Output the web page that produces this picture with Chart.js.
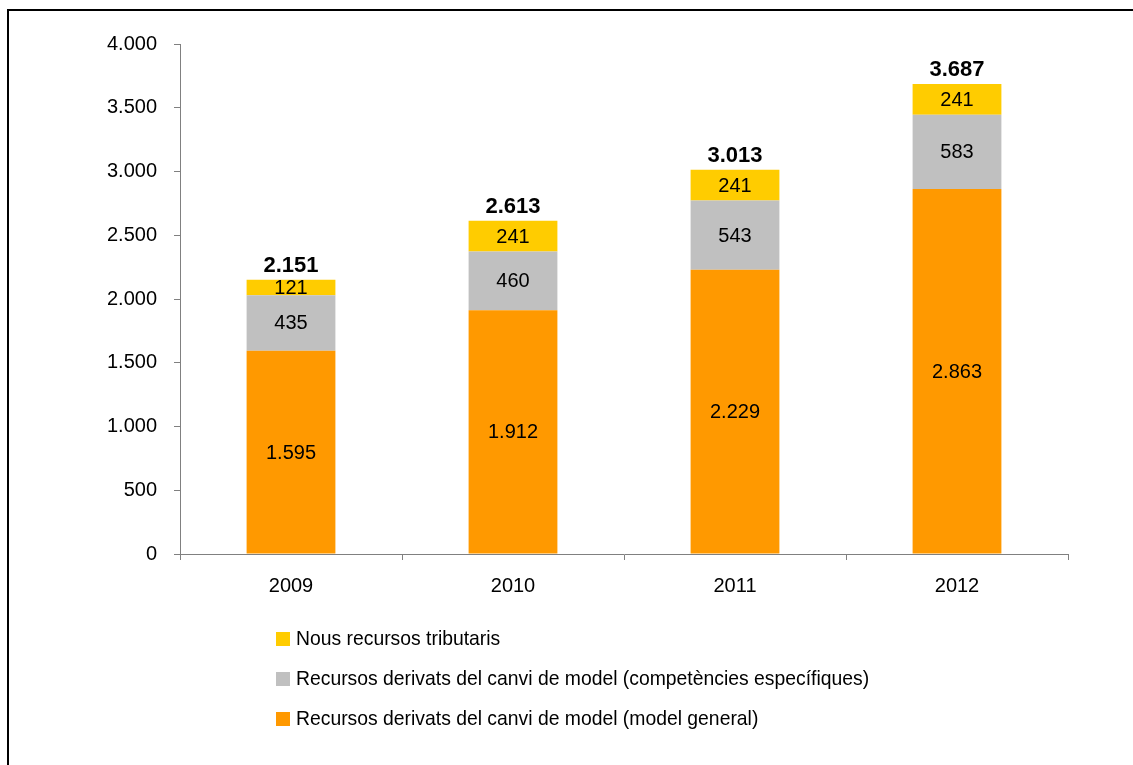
<!DOCTYPE html>
<html>
<head>
<meta charset="utf-8">
<script src="https://cdn.jsdelivr.net/npm/chart.js@4"></script>
<style>
  html, body { margin:0; padding:0; background:#fff; overflow:hidden; }
  #wrap { position:relative; width:1133px; height:765px; }
  #frame { position:absolute; left:7px; top:9px; width:1300px; height:900px; border-left:2px solid #000; border-top:2px solid #000; pointer-events:none; }
  canvas { position:absolute; left:0; top:0; }
  #legend { position:absolute; left:276px; top:627px; font-family:"Liberation Sans", Arial, sans-serif; font-size:19.35px; color:#000; }
  .item { height:40px; display:flex; align-items:flex-start; }
  .sw { width:14px; height:14px; margin-top:5px; margin-right:6px; }
</style>
</head>
<body>
<div id="wrap">
  <canvas id="c" width="1133" height="765"></canvas>
  <div id="frame"></div>
  <div id="legend"></div>
</div>
<script>
const years = ['2009', '2010', '2011', '2012'];
const modelGeneral = [1595, 1912, 2229, 2863];
const competencies = [435, 460, 543, 583];
const tributaris = [121, 241, 241, 241];
const totals = [2151, 2613, 3013, 3687];
const seriesNames = [
  'Recursos derivats del canvi de model (model general)',
  'Recursos derivats del canvi de model (competències específiques)',
  'Nous recursos tributaris'
];
const colors = ['#FF9900', '#C0C0C0', '#FFCC00'];

function fmt(v) {
  return String(v).replace(/\B(?=(\d{3})+(?!\d))/g, '.');
}

const FONT = '"Liberation Sans", Arial, sans-serif';

const labelPlugin = {
  id: 'labels',
  afterDatasetsDraw(chart) {
    const ctx = chart.ctx;
    ctx.save();
    ctx.fillStyle = '#000';
    ctx.textAlign = 'center';
    ctx.textBaseline = 'middle';
    ctx.font = '20px ' + FONT;
    chart.data.datasets.forEach((ds, di) => {
      const meta = chart.getDatasetMeta(di);
      meta.data.forEach((bar, i) => {
        const y = (bar.y + bar.base) / 2;
        ctx.fillText(fmt(ds.data[i]), bar.x, y + 1);
      });
    });
    const topMeta = chart.getDatasetMeta(chart.data.datasets.length - 1);
    ctx.font = 'bold 22px ' + FONT;
    ctx.textBaseline = 'alphabetic';
    topMeta.data.forEach((bar, i) => {
      ctx.fillText(fmt(totals[i]), bar.x, bar.y - 8);
    });
    ctx.restore();
  }
};

new Chart(document.getElementById('c'), {
  type: 'bar',
  data: {
    labels: years,
    datasets: [
      { label: seriesNames[0], data: modelGeneral, backgroundColor: colors[0] },
      { label: seriesNames[1], data: competencies, backgroundColor: colors[1] },
      { label: seriesNames[2], data: tributaris, backgroundColor: colors[2] }
    ]
  },
  options: {
    responsive: false,
    animation: false,
    devicePixelRatio: 1,
    layout: { padding: { left: 0, right: 65, top: 44, bottom: 0 } },
    datasets: { bar: { barPercentage: 0.4, categoryPercentage: 1.0 } },
    plugins: { legend: { display: false }, tooltip: { enabled: false } },
    scales: {
      x: {
        stacked: true,
        grid: { display: true, drawOnChartArea: false, drawTicks: true, tickLength: 6, color: '#808080', offset: true },
        border: { display: true, color: '#808080', width: 1 },
        ticks: { color: '#000', font: { family: FONT, size: 20 }, padding: 14 },
        afterFit(scale) { scale.height = 211; }
      },
      y: {
        stacked: true,
        min: 0,
        max: 4000,
        grid: { display: true, drawOnChartArea: false, drawTicks: true, tickLength: 6, color: '#808080' },
        border: { display: true, color: '#808080', width: 1 },
        ticks: { stepSize: 500, color: '#000', font: { family: FONT, size: 20 }, padding: 17, callback: v => fmt(v) },
        afterFit(scale) { scale.width = 180; }
      }
    }
  },
  plugins: [labelPlugin]
});

const legend = document.getElementById('legend');
[2, 1, 0].forEach(i => {
  const d = document.createElement('div');
  d.className = 'item';
  const s = document.createElement('div');
  s.className = 'sw';
  s.style.background = colors[i];
  const t = document.createElement('span');
  t.textContent = seriesNames[i];
  d.appendChild(s); d.appendChild(t);
  legend.appendChild(d);
});
</script>
</body>
</html>
